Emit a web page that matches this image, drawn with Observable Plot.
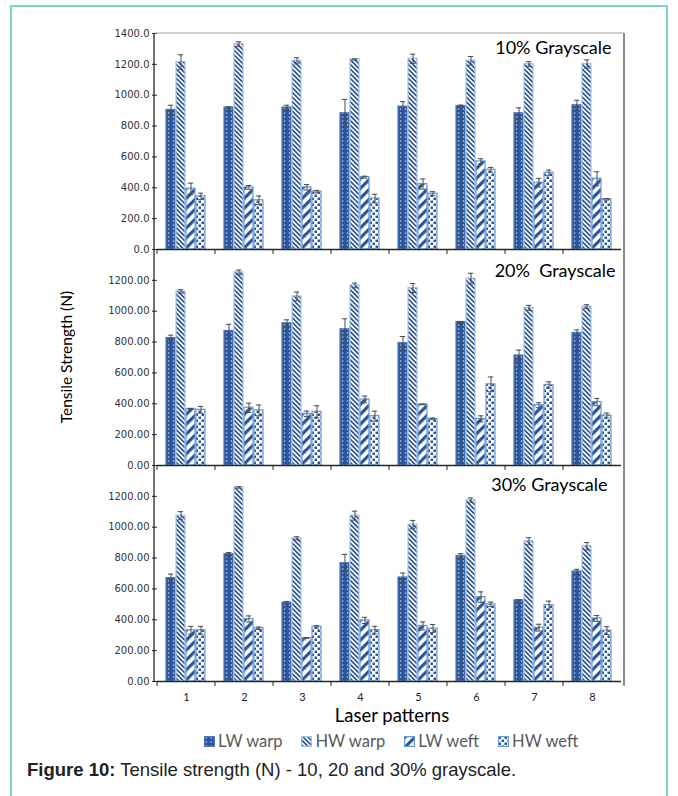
<!DOCTYPE html>
<html><head><meta charset="utf-8">
<script src="https://cdn.jsdelivr.net/npm/d3@7"></script>
<script src="https://cdn.jsdelivr.net/npm/@observablehq/plot@0.6"></script>
<style>
body{margin:0;background:#fff;}
#wrap{position:relative;width:678px;height:796px;overflow:hidden;background:#fff;}
#border{position:absolute;left:10px;top:5px;width:658px;height:820px;border:2px solid #7fd5c7;box-sizing:border-box;}
.panel{position:absolute;left:0;}
#ylabel{position:absolute;left:0;top:0;}
#xlabel{position:absolute;left:0;width:678px;top:704px;text-align:center;font-family:Lato,sans-serif;font-size:18.5px;color:#000;padding-left:106px;box-sizing:border-box;}
#legend{position:absolute;top:731px;left:204px;display:flex;font-family:Lato,sans-serif;font-size:16.5px;color:#595959;}
#legend .it{display:flex;align-items:center;margin-right:19px;}
#legend svg{margin-right:3px;}
#caption{position:absolute;left:27px;top:759px;font-family:"Liberation Sans",Arial,sans-serif;font-size:18.5px;color:#222;}
</style></head>
<body>
<div id="wrap">
<svg width="0" height="0" style="position:absolute">
<defs>
<pattern id="pLWwarp" width="4.8" height="4" patternUnits="userSpaceOnUse">
  <rect width="4.8" height="4" fill="#2F5597"/>
  <rect x="1.8" y="1.4" width="1.2" height="1.2" fill="#dfe8f6"/>
</pattern>
<pattern id="pHWwarp" width="3.3" height="10" patternUnits="userSpaceOnUse" patternTransform="rotate(-45)">
  <rect width="3.3" height="10" fill="#ffffff"/>
  <rect width="1.7" height="10" fill="#2F5597"/>
</pattern>
<pattern id="pLWweft" width="7" height="10" patternUnits="userSpaceOnUse" patternTransform="rotate(45)">
  <rect width="7" height="10" fill="#ffffff"/>
  <rect width="3.2" height="10" fill="#2F5597"/>
</pattern>
<pattern id="pHWweft" width="6" height="6" patternUnits="userSpaceOnUse">
  <rect width="6" height="6" fill="#ffffff"/>
  <rect x="0.5" y="0.5" width="2.5" height="2.5" fill="#2F5597"/>
  <rect x="3.5" y="3.5" width="2.5" height="2.5" fill="#2F5597"/>
</pattern>
</defs>
</svg>
<div id="border"></div>
<div id="p1" class="panel"></div>
<div id="p2" class="panel"></div>
<div id="p3" class="panel"></div>
<svg id="ylabel" width="120" height="700"><text transform="translate(72,357) rotate(-90)" text-anchor="middle" font-family="Lato, sans-serif" font-size="15.5" fill="#000">Tensile Strength (N)</text></svg>
<div id="xlabel">Laser patterns</div>
<div id="legend"></div>
<div id="caption"><b>Figure 10:</b> Tensile strength (N) - 10, 20 and 30% grayscale.</div>
</div>
<script>
const patterns = [1, 2, 3, 4, 5, 6, 7, 8];
const seriesNames = ["LW warp", "HW warp", "LW weft", "HW weft"];
const panelTitles = ["10% Grayscale", "20%  Grayscale", "30% Grayscale"];
const ticksTop = [0, 200, 400, 600, 800, 1000, 1200, 1400];
const ticksLower = [0, 200, 400, 600, 800, 1000, 1200];

// 10% grayscale
const g10_LWwarp = [905, 920, 920, 883, 926, 930, 883, 935];
const g10_HWwarp = [1215, 1331, 1223, 1232, 1236, 1223, 1202, 1202];
const g10_LWweft = [394, 403, 403, 469, 424, 571, 433, 459];
const g10_HWweft = [345, 319, 375, 330, 362, 517, 498, 325];
const g10_LWwarp_err = [30, 5, 15, 90, 32, 6, 35, 32];
const g10_HWwarp_err = [47, 15, 20, 4, 30, 28, 15, 27];
const g10_LWweft_err = [36, 12, 18, 6, 33, 17, 28, 45];
const g10_HWweft_err = [20, 28, 8, 28, 13, 15, 17, 5];

// 20% grayscale
const g20_LWwarp = [826, 872, 922, 883, 793, 930, 713, 859];
const g20_HWwarp = [1128, 1252, 1096, 1167, 1150, 1211, 1022, 1030];
const g20_LWweft = [367, 374, 335, 428, 396, 302, 391, 411];
const g20_HWweft = [361, 357, 348, 320, 302, 526, 522, 324];
const g20_LWwarp_err = [19, 43, 22, 68, 43, 3, 35, 20];
const g20_HWwarp_err = [11, 15, 28, 15, 29, 35, 16, 12];
const g20_LWweft_err = [3, 30, 18, 22, 2, 20, 16, 24];
const g20_HWweft_err = [22, 35, 39, 32, 5, 48, 20, 16];

// 30% grayscale
const g30_LWwarp = [670, 825, 511, 767, 674, 814, 526, 713];
const g30_HWwarp = [1075, 1258, 928, 1075, 1017, 1176, 909, 877];
const g30_LWweft = [332, 405, 282, 396, 360, 547, 349, 409];
const g30_HWweft = [332, 345, 355, 333, 343, 500, 495, 330];
const g30_LWwarp_err = [26, 11, 8, 57, 29, 15, 4, 14];
const g30_HWwarp_err = [26, 5, 10, 29, 27, 14, 23, 24];
const g30_LWweft_err = [25, 20, 2, 20, 26, 34, 22, 19];
const g30_HWweft_err = [25, 8, 8, 25, 26, 15, 26, 25];

const fills = {"LW warp": "url(#pLWwarp)", "HW warp": "url(#pHWwarp)", "LW weft": "url(#pLWweft)", "HW weft": "url(#pHWweft)"};
const strokes = {"LW warp": "#4a78c2", "HW warp": "#9dc3e6", "LW weft": "#6a9ad6", "HW weft": "#6a9ad6"};

function buildRows(vals, errs) {
  const rows = [];
  seriesNames.forEach((s, si) => {
    patterns.forEach((p, pi) => rows.push({pattern: p, series: s, value: vals[si][pi], err: errs[si][pi]}));
  });
  return rows;
}
const rows10 = buildRows([g10_LWwarp, g10_HWwarp, g10_LWweft, g10_HWweft], [g10_LWwarp_err, g10_HWwarp_err, g10_LWweft_err, g10_HWweft_err]);
const rows20 = buildRows([g20_LWwarp, g20_HWwarp, g20_LWweft, g20_HWweft], [g20_LWwarp_err, g20_HWwarp_err, g20_LWweft_err, g20_HWweft_err]);
const rows30 = buildRows([g30_LWwarp, g30_HWwarp, g30_LWweft, g30_HWweft], [g30_LWwarp_err, g30_HWwarp_err, g30_LWweft_err, g30_HWweft_err]);

const AREA_H = 216, MT = 10;
function makePanel(el, top, rows, opt) {
  const mb = opt.bottom ? 30 : 10;
  const H = MT + AREA_H + mb;
  const marks = [
    Plot.axisY(opt.ticks, {anchor: "left", label: null, tickFormat: d3.format(opt.fmt), tickSize: 5, tickPadding: 3, fontFamily: "DejaVu Sans, Verdana, sans-serif", fontSize: 10, fill: "#333", stroke: "#262626"}),
    ...seriesNames.map(s => Plot.barY(rows.filter(d => d.series === s), {fx: "pattern", x: "series", y: "value", fill: fills[s], stroke: strokes[s], strokeWidth: 1.2})),
    Plot.ruleX(rows, {fx: "pattern", x: "series", y1: d => d.value - d.err, y2: d => d.value + d.err, stroke: "#4d4d4d", strokeWidth: 1}),
    Plot.tickY(rows, {fx: "pattern", x: "series", y: d => d.value + d.err, stroke: "#4d4d4d", strokeWidth: 1, insetLeft: 1.8, insetRight: 1.8}),
    Plot.tickY(rows, {fx: "pattern", x: "series", y: d => d.value - d.err, stroke: "#4d4d4d", strokeWidth: 1, insetLeft: 1.8, insetRight: 1.8}),
    Plot.ruleY([0], {stroke: "#262626", strokeWidth: 1.3}),
    Plot.text([{pattern: 8, label: opt.title}], {fx: "pattern", text: "label", frameAnchor: "top-right", dx: opt.dx, dy: opt.dy, fontFamily: "Lato, sans-serif", fontSize: 18, fill: "#000"})
  ];
  if (opt.bottom) marks.push(Plot.axisFx({anchor: "bottom", tickSize: 0, tickPadding: 12, fontFamily: "Lato, sans-serif", fontSize: 11, fill: "#222", label: null}));
  const plot = Plot.plot({
    width: 678, height: H,
    marginLeft: 154, marginRight: 54, marginTop: MT, marginBottom: mb,
    style: {background: "transparent", overflow: "visible"},
    fx: {domain: patterns, paddingInner: 0, paddingOuter: 0, axis: null, label: null},
    x: {domain: seriesNames, paddingInner: 0.08, paddingOuter: 0.84, axis: null},
    y: {domain: [0, 1400], axis: null},
    marks
  });
  el.style.top = (top - MT) + "px";
  el.appendChild(plot);
  // frame decorations from the plot's own scales
  const svg = d3.select(plot);
  const fx = plot.scale("fx"), y = plot.scale("y");
  const y0 = y.apply(0), yTop = y.apply(1400);
  const left = fx.range[0], right = fx.range[1];
  const edges = patterns.map(p => fx.apply(p)).concat([right]);
  const g = svg.append("g");
  g.selectAll("line.b").data(edges).join("line")
    .attr("x1", d => d).attr("x2", d => d).attr("y1", y0).attr("y2", y0 + 5)
    .attr("stroke", "#262626").attr("stroke-width", 1);
  g.append("line").attr("x1", left).attr("x2", left).attr("y1", yTop).attr("y2", y0)
    .attr("stroke", "#262626").attr("stroke-width", 1.3);
  g.append("line").attr("x1", right).attr("x2", right).attr("y1", yTop).attr("y2", y0)
    .attr("stroke", "#8a8a8a").attr("stroke-width", 2);
  if (opt.topBorder) g.append("line").attr("x1", left).attr("x2", right).attr("y1", yTop).attr("y2", yTop)
    .attr("stroke", "#a0a0a0").attr("stroke-width", 1.2);
}

makePanel(document.getElementById("p1"), 33, rows10, {ticks: ticksTop, fmt: ".1f", title: panelTitles[0], dx: -10, dy: 8, topBorder: true});
makePanel(document.getElementById("p2"), 249, rows20, {ticks: ticksLower, fmt: ".2f", title: panelTitles[1], dx: -6, dy: 15});
makePanel(document.getElementById("p3"), 465, rows30, {ticks: ticksLower, fmt: ".2f", title: panelTitles[2], dx: -14, dy: 13, bottom: true});

// legend
const leg = d3.select("#legend");
seriesNames.forEach(s => {
  const it = leg.append("div").attr("class", "it");
  const sw = it.append("svg").attr("width", 11).attr("height", 11);
  sw.append("rect").attr("x", 0.6).attr("y", 0.6).attr("width", 9.8).attr("height", 9.8)
    .attr("fill", fills[s]).attr("stroke", strokes[s]).attr("stroke-width", 1.2);
  it.append("span").text(s);
});
</script>
</body></html>
